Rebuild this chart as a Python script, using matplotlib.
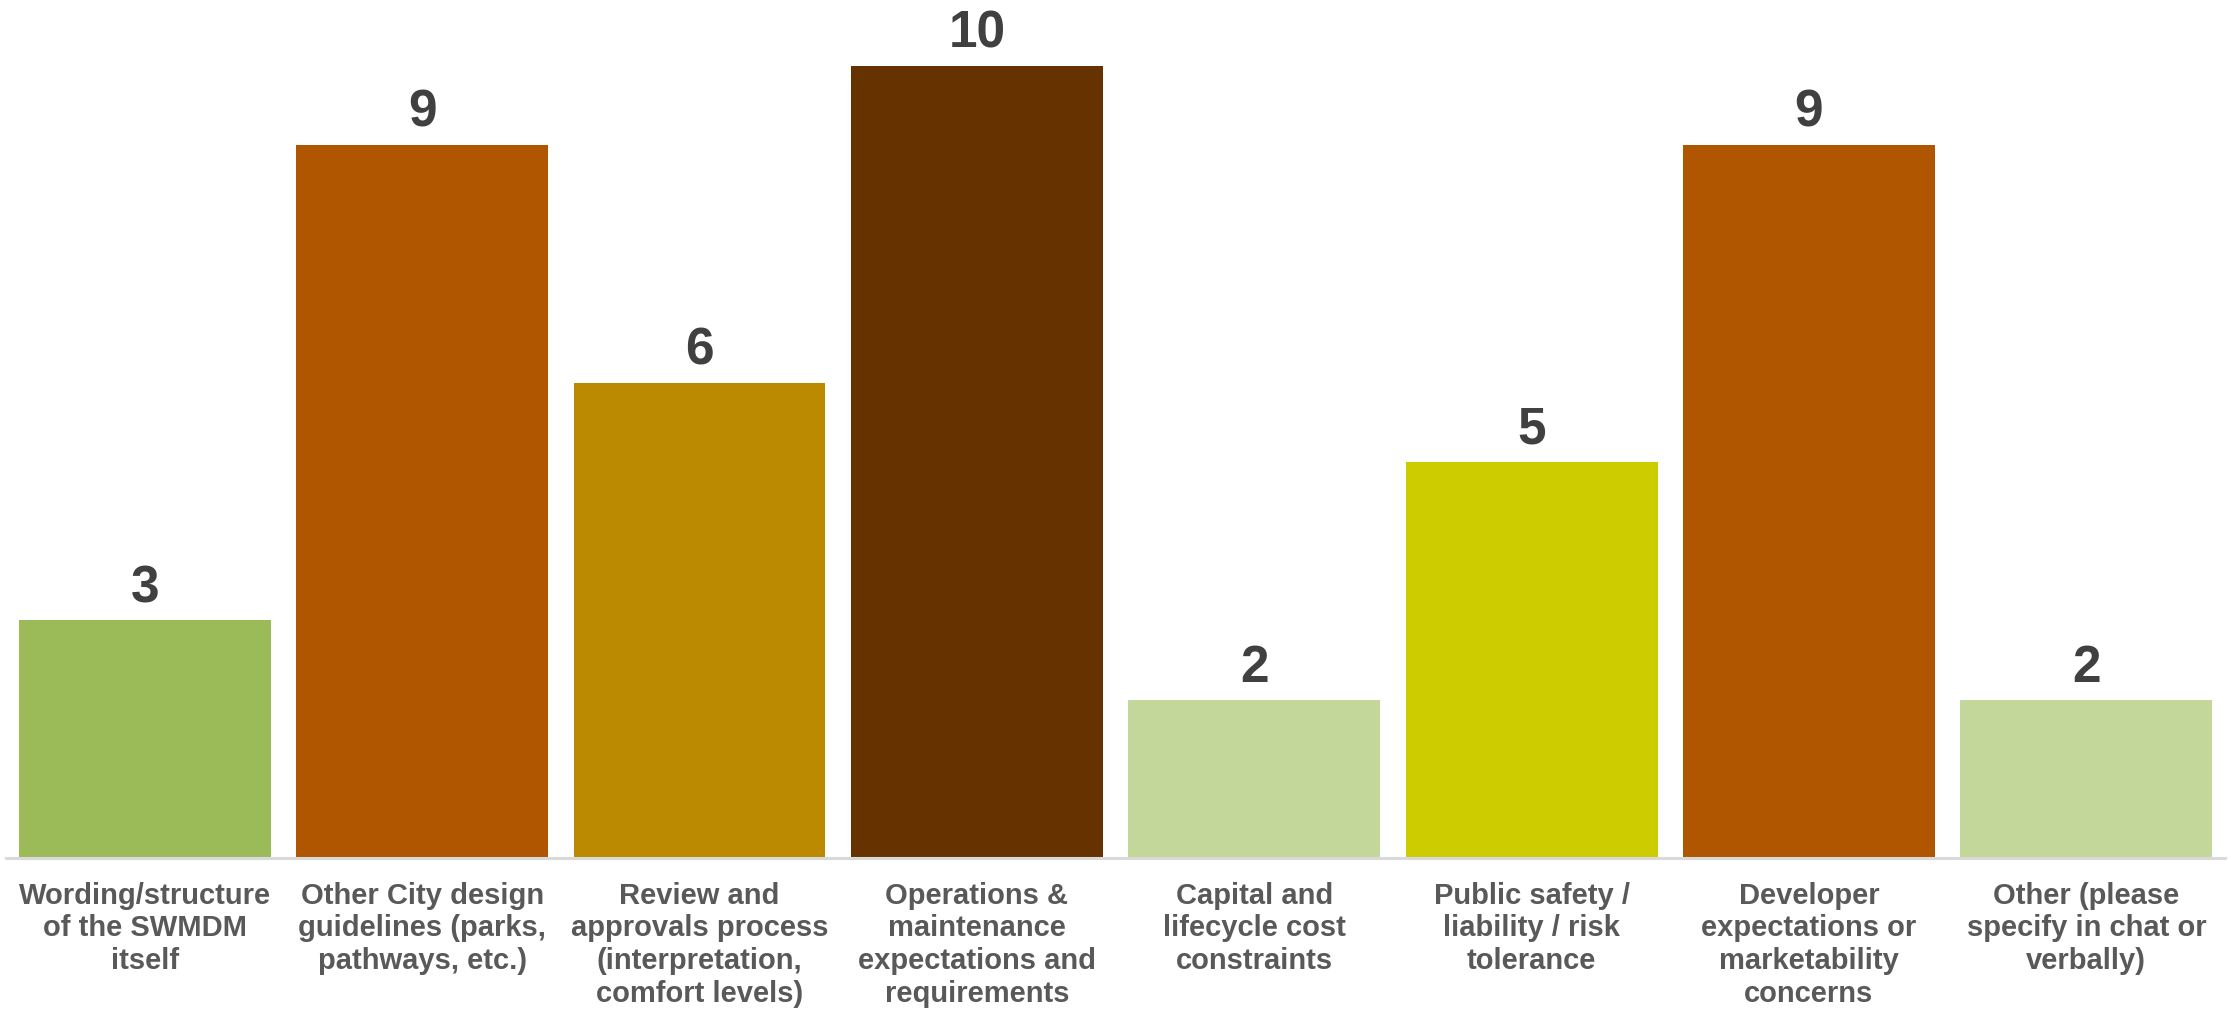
import matplotlib.pyplot as plt
import numpy as np

# survey categories and response counts
categories = [
    "Wording/structure\nof the SWMDM\nitself",
    "Other City design\nguidelines (parks,\npathways, etc.)",
    "Review and\napprovals process\n(interpretation,\ncomfort levels)",
    "Operations &\nmaintenance\nexpectations and\nrequirements",
    "Capital and\nlifecycle cost\nconstraints",
    "Public safety /\nliability / risk\ntolerance",
    "Developer\nexpectations or\nmarketability\nconcerns",
    "Other (please\nspecify in chat or\nverbally)",
]
counts = [3, 9, 6, 10, 2, 5, 9, 2]
colors = ["#9BBB59", "#B05500", "#BC8A00", "#663300",
          "#C4D79B", "#CCCC00", "#B05500", "#C4D79B"]

font = ["Liberation Sans", "DejaVu Sans"]

fig = plt.figure(figsize=(22.34, 10.10), dpi=100)
ax = fig.add_axes([0.0027, 0.1505, 0.9933, 0.7846])

x = np.arange(len(counts))
bars = ax.bar(x, counts, width=0.908, color=colors, zorder=2)

# value labels over each bar
for b, v in zip(bars, counts):
    ax.annotate(str(v), (b.get_x() + b.get_width() / 2, v),
                xytext=(0, 5), textcoords="offset points",
                ha="center", va="bottom", fontsize=37, fontweight="bold",
                color="#404040", family=font, annotation_clip=False)

ax.set_xlim(-0.5, len(counts) - 0.5)
ax.set_ylim(0, 10)
ax.set_xticks(x)
ax.set_xticklabels(categories, fontsize=21, fontweight="bold", color="#595959",
                   family=font, linespacing=1.22)
ax.tick_params(axis="x", length=0, pad=17)
ax.set_yticks([])

for s in ["top", "right", "left"]:
    ax.spines[s].set_visible(False)
ax.spines["bottom"].set_color("#D9D9D9")
ax.spines["bottom"].set_linewidth(2.2)

fig.savefig("out.png", dpi=100, facecolor="white")
